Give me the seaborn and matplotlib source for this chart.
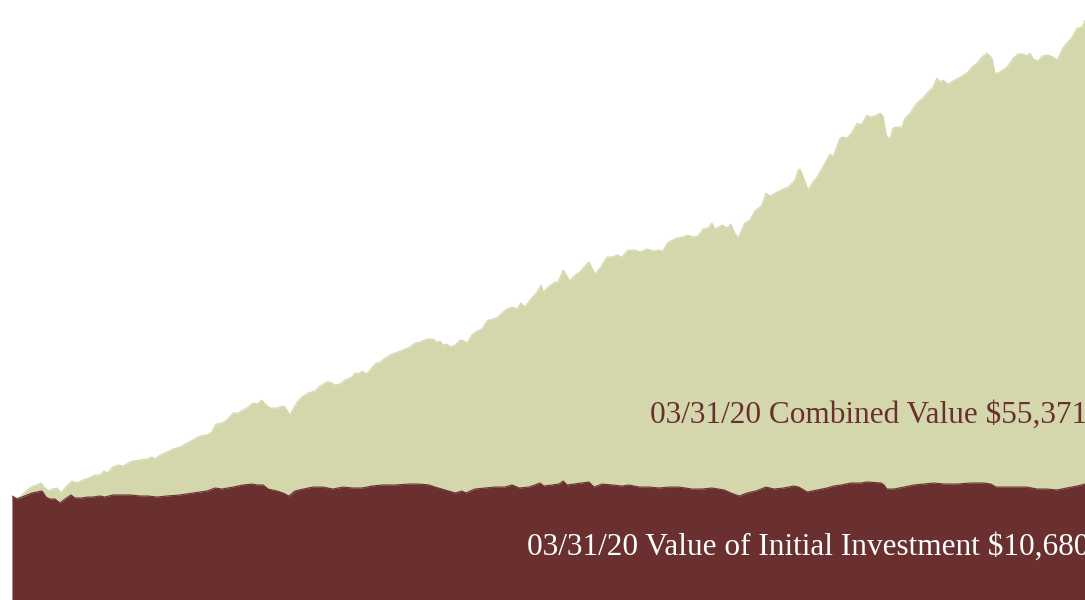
import numpy as np
import pandas as pd
import seaborn as sns
import matplotlib.pyplot as plt

# years since the start of the period, and dollar values
combined_years = [
    0.00, 0.14, 0.22, 0.36, 0.50, 0.59, 0.70, 0.81, 0.87, 1.01, 1.12, 1.26, 1.37, 1.48,
    1.68, 1.82, 1.98, 2.15, 2.32, 2.46, 2.57, 2.66, 2.82, 2.96, 3.10, 3.24, 3.38, 3.58,
    3.77, 3.91, 4.00, 4.14, 4.33, 4.50, 4.70, 4.89, 5.06, 5.26, 5.45, 5.59, 5.70, 5.76,
    5.87, 6.01, 6.18, 6.32, 6.51, 6.68, 6.74, 6.85, 6.99, 7.07, 7.21, 7.41, 7.55, 7.63,
    7.77, 7.97, 8.11, 8.28, 8.47, 8.61, 8.81, 8.89, 9.03, 9.17, 9.31, 9.51, 9.59, 9.67,
    9.79, 9.90, 10.01, 10.18, 10.26, 10.43, 10.62, 10.79, 10.93, 11.13, 11.27, 11.41,
    11.60, 11.77, 11.88, 11.97, 12.05, 12.16, 12.25, 12.39, 12.53, 12.64, 12.72, 12.86,
    13.00, 13.14, 13.28, 13.42, 13.56, 13.70, 13.84, 13.98, 14.12, 14.23, 14.34, 14.48,
    14.68, 14.79, 14.85, 14.99, 15.18, 15.27, 15.41, 15.60, 15.74, 15.88, 16.02, 16.13,
    16.30, 16.44, 16.64, 16.78, 16.92, 17.05, 17.22, 17.42, 17.56, 17.75, 17.92, 18.06,
    18.20, 18.34, 18.48, 18.59, 18.76, 18.90, 19.04, 19.18, 19.32, 19.46, 19.57, 19.65,
    19.85, 19.99, 20.10, 20.19, 20.30, 20.49, 20.63, 20.77, 20.97, 21.08, 21.19, 21.39,
    21.56, 21.70, 21.89, 21.98, 22.03, 22.12, 22.26, 22.37, 22.51, 22.59, 22.65, 22.87,
    22.95, 23.15, 23.23, 23.35, 23.49, 23.63, 23.71, 23.79, 23.90, 23.99, 24.13, 24.27,
    24.35, 24.44, 24.55, 24.63, 24.74, 24.88, 24.97, 25.11, 25.30, 25.47, 25.61, 25.75,
    25.86, 25.95, 26.03, 26.17, 26.31, 26.51, 26.70, 26.84, 26.98, 27.12, 27.26, 27.40,
    27.48, 27.57, 27.82, 27.99, 28.13, 28.27, 28.38, 28.46, 28.55, 28.69, 28.80, 28.97,
    29.11, 29.22, 29.38, 29.52, 29.64, 29.78, 29.92, 30.00,
]
combined_value = [
    10000, 9810, 9900, 10380, 10770, 10960, 11060, 11250, 10960, 10480, 10670, 10770, 10290, 10770,
    11440, 11250, 11540, 11730, 12020, 12020, 12400, 12210, 12790, 12980, 12880, 13170, 13360, 13460,
    13560, 13750, 13560, 13940, 14230, 14520, 14710, 15100, 15380, 15770, 15860, 16150, 16920, 16920,
    17020, 17310, 17980, 17980, 18360, 18750, 18940, 18850, 19230, 18850, 18460, 18460, 18650, 18560,
    17790, 19040, 19520, 19900, 20100, 20580, 20960, 20960, 20670, 20770, 21150, 21440, 21830, 21730,
    22020, 21730, 22110, 22790, 22790, 23270, 23650, 23850, 24040, 24330, 24710, 24810,
    25100, 25100, 24810, 24900, 24520, 24610, 24330, 24520, 25000, 24900, 24710, 25480,
    25860, 26060, 26830, 27020, 27110, 27600, 27980, 28170, 27980, 28560, 28170, 28850,
    29610, 30290, 29610, 30090, 30580, 30580, 31730, 30670, 31250, 31540, 32110, 32500,
    31340, 31920, 32980, 32980, 33170, 32980, 33650, 33650, 33460, 33750, 33560, 33650,
    33560, 34420, 34610, 34810, 34900, 35090, 34900, 35000, 35670, 35770, 36250, 35670,
    36060, 35770, 36150, 35380, 34810, 36250, 36540, 37400, 37980, 39130, 38840, 39230,
    39520, 39710, 40380, 41340, 41440, 40670, 39420, 40090, 40670, 41150, 41540, 42880,
    42590, 44420, 44520, 44420, 45000, 45860, 45670, 45960, 46630, 46440, 46540, 46830,
    46540, 44710, 44330, 45380, 45480, 45480, 46340, 46830, 47790, 48270, 48840, 49320,
    50190, 49810, 50000, 49610, 49900, 50290, 50670, 51250, 51630, 52210, 52590, 52110,
    50670, 50670, 51250, 52110, 52500, 52500, 52310, 52590, 52020, 51820, 52310, 52400,
    52210, 51920, 53070, 53650, 54130, 55000, 55090, 55770,
]

initial_years = [
    0.00, 0.14, 0.28, 0.42, 0.56, 0.70, 0.84, 0.95, 1.06, 1.20, 1.34, 1.48, 1.65, 1.76,
    1.96, 2.12, 2.26, 2.46, 2.60, 2.82, 3.02, 3.30, 3.58, 3.80, 4.05, 4.33, 4.70, 5.06,
    5.45, 5.68, 5.87, 6.18, 6.46, 6.71, 6.85, 7.02, 7.16, 7.41, 7.58, 7.74, 7.91, 8.14,
    8.42, 8.70, 8.97, 9.25, 9.53, 9.79, 10.07, 10.34, 10.71, 11.10, 11.38, 11.66, 11.83,
    12.11, 12.39, 12.58, 12.69, 12.94, 13.22, 13.50, 13.78, 13.98, 14.18, 14.45, 14.62,
    14.76, 14.87, 15.10, 15.29, 15.41, 15.52, 15.71, 15.94, 16.13, 16.27, 16.50, 16.78,
    17.05, 17.25, 17.53, 17.81, 18.09, 18.37, 18.65, 19.01, 19.29, 19.57, 19.91, 20.10,
    20.33, 20.55, 20.80, 21.08, 21.30, 21.58, 21.86, 22.00, 22.23, 22.51, 22.79, 22.98,
    23.18, 23.46, 23.74, 23.90, 24.30, 24.38, 24.46, 24.66, 24.94, 25.22, 25.50, 25.78,
    26.06, 26.42, 26.81, 27.18, 27.37, 27.51, 27.82, 28.10, 28.38, 28.66, 28.94, 29.22,
    29.49, 29.78, 30.00,
]
initial_value = [
    10000, 9710, 9900, 10100, 10290, 10380, 10480, 9900, 9710, 9710, 9330, 9710, 10100, 9810,
    9810, 9900, 9900, 10000, 9900, 10100, 10100, 10100, 10000, 10000, 9900, 10000, 10100, 10290,
    10480, 10770, 10670, 10860, 11060, 11150, 11060, 11060, 10670, 10480, 10290, 10000, 10480, 10670,
    10860, 10860, 10670, 10860, 10770, 10770, 10960, 11060, 11060, 11150, 11150, 11060, 10860,
    10580, 10290, 10480, 10290, 10670, 10770, 10860, 10860, 11060, 10770, 10860, 11060,
    11250, 10960, 11060, 11150, 11440, 11060, 11150, 11250, 11350, 10860, 11150, 11060,
    10960, 11060, 10860, 10860, 10770, 10860, 10860, 10670, 10670, 10770, 10580, 10290,
    10000, 10290, 10480, 10860, 10670, 10770, 10960, 10860, 10380, 10580, 10770, 10960,
    11060, 11250, 11250, 11350, 11250, 11060, 10670, 10670, 10860, 11060, 11150, 11250,
    11150, 11150, 11250, 11250, 11150, 10860, 10860, 10860, 10860, 10670, 10670, 10580,
    10770, 10960, 11150,
]

combined_label = "03/31/20 Combined Value $55,371"
initial_label = "03/31/20 Value of Initial Investment $10,680"

green = "#d4d7ac"
maroon = "#69302f"

combined = pd.DataFrame({"years": combined_years, "value": combined_value})
initial = pd.DataFrame({"years": initial_years, "value": initial_value})

sns.set_theme(style="white")
plt.rcParams["font.family"] = ["Liberation Serif", "DejaVu Serif"]

fig = plt.figure(figsize=(10.85, 6), dpi=100)
ax = fig.add_axes([12 / 1085, 0, 1 - 12 / 1085, 1])

ax.fill_between(combined["years"], 0, combined["value"], color=green, linewidth=0)
sns.lineplot(data=combined, x="years", y="value", color=green, linewidth=0.8, ax=ax)
ax.fill_between(initial["years"], 0, initial["value"], color=maroon, linewidth=0)
sns.lineplot(data=initial, x="years", y="value", color=maroon, linewidth=0.8, ax=ax)

ax.set_xlim(0, 30)
ax.set_ylim(0, 57700)
ax.set_axis_off()

# labels run into the right edge, as in the original
fig.text(1.002, 0.296, combined_label, ha="right", va="baseline",
         fontsize=22.5, color=maroon)
fig.text(1.004, 0.075, initial_label, ha="right", va="baseline",
         fontsize=22.5, color="white")

fig.savefig("out.png", dpi=100)
